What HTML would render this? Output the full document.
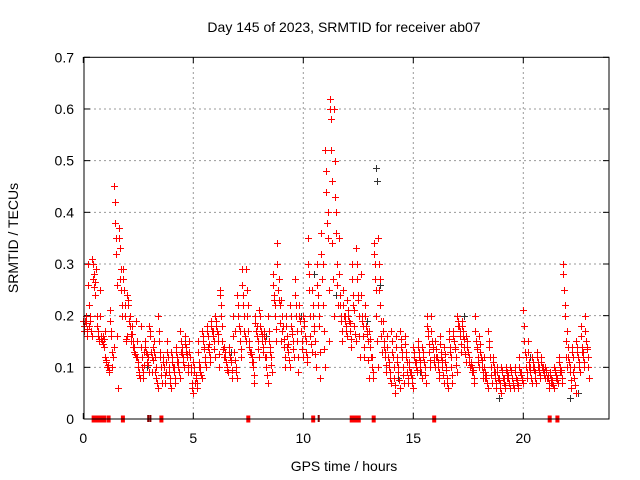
<!DOCTYPE html>
<html><head><meta charset="utf-8"><style>
body{margin:0;background:#fff}
svg{display:block;font-family:"Liberation Sans",sans-serif}
</style></head><body>
<svg id="chart" width="640" height="480">
<rect width="640" height="480" fill="#fff"/>
<text x="344" y="32" text-anchor="middle" font-size="14">Day 145 of 2023, SRMTID for receiver ab07</text>
<text x="18" y="238" text-anchor="middle" font-size="14" transform="rotate(-90 18 238)">SRMTID / TECUs</text>
<text x="344" y="471" text-anchor="middle" font-size="14">GPS time / hours</text>
<g id="grid"></g>
<g id="marks"></g>
<rect x="84" y="57.3" width="525" height="361.7" fill="none" stroke="#000" stroke-width="1"/>
</svg>
<script>
const times=[0,0.2,0.4,0.6,0.8,1.0,1.2,1.4,1.6,1.8,2.0,2.2,2.4,2.6,2.8,3.0,3.2,3.4,3.6,3.8,4.0,4.2,4.4,4.6,4.8,5.0,5.2,5.4,5.6,5.8,6.0,6.2,6.4,6.6,6.8,7.0,7.2,7.4,7.6,7.8,8.0,8.2,8.4,8.6,8.8,9.0,9.2,9.4,9.6,9.8,10.0,10.2,10.4,10.6,10.8,11.0,11.2,11.4,11.6,11.8,12.0,12.2,12.4,12.6,12.8,13.0,13.2,13.4,13.6,13.8,14.0,14.2,14.4,14.6,14.8,15.0,15.2,15.4,15.6,15.8,16.0,16.2,16.4,16.6,16.8,17.0,17.2,17.4,17.6,17.8,18.0,18.2,18.4,18.6,18.8,19.0,19.2,19.4,19.6,19.8,20.0,20.2,20.4,20.6,20.8,21.0,21.2,21.4,21.6,21.8,22.0,22.2,22.4,22.6,22.8];
const v1=[0.19,0.3,0.31,0.2,0.16,0.12,0.21,0.45,0.37,0.29,0.24,0.18,0.19,0.18,0.15,0.18,0.15,0.2,0.12,0.15,0.13,0.14,0.17,0.16,0.15,0.11,0.15,0.17,0.18,0.19,0.2,0.25,0.14,0.14,0.2,0.24,0.29,0.29,0.13,0.2,0.21,0.17,0.2,0.28,0.34,0.23,0.2,0.22,0.27,0.22,0.2,0.35,0.25,0.3,0.36,0.52,0.62,0.6,0.35,0.25,0.23,0.3,0.33,0.28,0.22,0.17,0.34,0.35,0.19,0.16,0.17,0.16,0.17,0.16,0.11,0.14,0.15,0.14,0.2,0.2,0.15,0.16,0.14,0.17,0.17,0.2,0.19,0.16,0.11,0.2,0.16,0.12,0.17,0.12,0.1,0.1,0.1,0.1,0.1,0.12,0.21,0.15,0.12,0.13,0.12,0.1,0.09,0.1,0.12,0.3,0.17,0.14,0.15,0.18,0.2];
const v2=[0.17,0.18,0.27,0.16,0.15,0.11,0.17,0.38,0.33,0.25,0.22,0.15,0.12,0.1,0.13,0.16,0.12,0.15,0.1,0.12,0.11,0.12,0.13,0.13,0.12,0.09,0.11,0.15,0.16,0.17,0.18,0.22,0.12,0.12,0.13,0.2,0.22,0.2,0.12,0.17,0.18,0.15,0.15,0.24,0.25,0.17,0.16,0.18,0.2,0.19,0.18,0.25,0.2,0.22,0.27,0.44,0.58,0.43,0.22,0.2,0.2,0.24,0.27,0.2,0.18,0.14,0.3,0.25,0.15,0.12,0.13,0.12,0.14,0.13,0.09,0.12,0.13,0.12,0.16,0.15,0.12,0.13,0.11,0.14,0.15,0.18,0.17,0.14,0.1,0.15,0.13,0.09,0.14,0.1,0.08,0.09,0.09,0.09,0.08,0.09,0.15,0.11,0.1,0.11,0.1,0.09,0.08,0.09,0.1,0.25,0.12,0.12,0.13,0.14,0.15];
const v3=[0.2,0.2,0.24,0.15,0.14,0.1,0.1,0.26,0.25,0.15,0.18,0.13,0.09,0.08,0.12,0.09,0.08,0.1,0.07,0.08,0.09,0.1,0.12,0.12,0.07,0.08,0.09,0.12,0.13,0.15,0.15,0.15,0.1,0.11,0.1,0.15,0.17,0.15,0.1,0.15,0.15,0.1,0.12,0.2,0.22,0.14,0.13,0.15,0.15,0.15,0.13,0.16,0.15,0.18,0.17,0.35,0.34,0.3,0.19,0.18,0.17,0.18,0.2,0.16,0.15,0.1,0.2,0.19,0.12,0.09,0.08,0.09,0.1,0.09,0.08,0.1,0.1,0.1,0.13,0.12,0.1,0.1,0.08,0.1,0.12,0.16,0.14,0.12,0.09,0.12,0.1,0.08,0.1,0.08,0.07,0.07,0.08,0.07,0.07,0.08,0.1,0.09,0.09,0.09,0.09,0.08,0.07,0.08,0.09,0.15,0.09,0.08,0.11,0.12,0.12];
const v4=[0.16,0.16,0.29,0.25,0.17,0.09,0.14,0.06,0.2,0.16,0.15,0.12,0.08,0.13,0.09,0.14,0.06,0.07,0.11,0.06,0.07,0.08,0.1,0.09,0.05,0.06,0.08,0.1,0.11,0.12,0.1,0.12,0.09,0.08,0.08,0.12,0.15,0.13,0.07,0.12,0.13,0.07,0.09,0.15,0.15,0.1,0.1,0.12,0.09,0.12,0.11,0.13,0.1,0.08,0.1,0.15,0.2,0.22,0.15,0.16,0.14,0.15,0.12,0.12,0.08,0.08,0.1,0.13,0.09,0.07,0.05,0.06,0.07,0.07,0.06,0.09,0.08,0.07,0.1,0.1,0.08,0.07,0.06,0.07,0.09,0.13,0.11,0.1,0.07,0.1,0.08,0.06,0.07,0.06,0.05,0.06,0.06,0.06,0.06,0.07,0.08,0.07,0.07,0.08,0.08,0.06,0.06,0.07,0.07,0.1,0.06,0.05,0.09,0.1,0.08];
const v5=[0.18,0.26,0.3,0.18,0.155,0.115,0.19,0.42,0.35,0.27,0.23,0.165,0.15,0.14,0.14,0.17,0.13,0.17,0.11,0.13,0.12,0.13,0.15,0.145,0.13,0.1,0.13,0.16,0.17,0.18,0.19,0.24,0.13,0.13,0.16,0.22,0.26,0.25,0.125,0.185,0.2,0.16,0.17,0.26,0.3,0.2,0.18,0.2,0.24,0.2,0.19,0.3,0.22,0.26,0.32,0.48,0.6,0.5,0.28,0.22,0.21,0.27,0.3,0.24,0.2,0.155,0.32,0.3,0.17,0.14,0.15,0.14,0.155,0.145,0.1,0.13,0.14,0.13,0.18,0.17,0.135,0.145,0.125,0.155,0.16,0.19,0.18,0.15,0.105,0.17,0.145,0.1,0.15,0.11,0.09,0.095,0.095,0.095,0.09,0.1,0.18,0.13,0.11,0.12,0.11,0.095,0.085,0.095,0.11,0.28,0.14,0.13,0.14,0.16,0.17];
const v6=[0.185,0.19,0.255,0.155,0.145,0.105,0.13,0.32,0.29,0.2,0.2,0.14,0.1,0.09,0.125,0.12,0.1,0.12,0.085,0.1,0.1,0.11,0.125,0.125,0.09,0.085,0.1,0.135,0.145,0.16,0.165,0.18,0.11,0.115,0.115,0.17,0.2,0.17,0.11,0.16,0.165,0.12,0.13,0.22,0.23,0.155,0.145,0.165,0.17,0.17,0.15,0.2,0.17,0.2,0.22,0.4,0.46,0.36,0.2,0.19,0.185,0.21,0.23,0.18,0.165,0.12,0.25,0.22,0.13,0.1,0.1,0.1,0.12,0.11,0.085,0.11,0.115,0.11,0.145,0.135,0.11,0.115,0.095,0.12,0.135,0.17,0.155,0.13,0.095,0.135,0.115,0.085,0.12,0.09,0.075,0.08,0.085,0.08,0.075,0.085,0.12,0.1,0.095,0.1,0.095,0.085,0.075,0.085,0.095,0.2,0.1,0.1,0.12,0.13,0.135];
const v7=[0.175,0.17,0.265,0.2,0.155,0.095,0.12,0.16,0.22,0.155,0.165,0.125,0.085,0.105,0.105,0.115,0.07,0.085,0.09,0.07,0.08,0.09,0.11,0.105,0.06,0.07,0.085,0.11,0.12,0.135,0.125,0.135,0.095,0.095,0.09,0.135,0.16,0.14,0.085,0.135,0.14,0.085,0.105,0.175,0.185,0.12,0.115,0.135,0.12,0.135,0.12,0.145,0.125,0.13,0.135,0.25,0.27,0.26,0.17,0.17,0.155,0.165,0.16,0.14,0.115,0.09,0.15,0.16,0.105,0.08,0.065,0.075,0.085,0.08,0.07,0.095,0.09,0.085,0.115,0.11,0.09,0.085,0.07,0.085,0.105,0.145,0.125,0.11,0.08,0.11,0.09,0.07,0.085,0.07,0.06,0.065,0.07,0.065,0.065,0.075,0.09,0.08,0.08,0.085,0.085,0.07,0.065,0.075,0.08,0.12,0.075,0.065,0.1,0.11,0.1];
const v8=[0.19,0.22,0.28,0.17,0.16,0.1,0.16,0.35,0.27,0.22,0.19,0.14,0.11,0.12,0.11,0.13,0.09,0.13,0.1,0.09,0.1,0.11,0.14,0.14,0.1,0.07,0.1,0.14,0.14,0.17,0.17,0.2,0.11,0.12,0.17,0.18,0.24,0.22,0.11,0.18,0.17,0.12,0.14,0.23,0.27,0.18,0.14,0.17,0.22,0.17,0.16,0.28,0.18,0.24,0.3,0.38,0.52,0.4,0.24,0.2,0.19,0.22,0.24,0.19,0.17,0.12,0.27,0.27,0.14,0.11,0.12,0.11,0.13,0.12,0.09,0.11,0.12,0.11,0.17,0.14,0.12,0.12,0.1,0.13,0.14,0.18,0.16,0.13,0.09,0.14,0.12,0.08,0.12,0.09,0.08,0.08,0.08,0.08,0.08,0.09,0.13,0.1,0.1,0.1,0.1,0.08,0.07,0.08,0.09,0.22,0.11,0.09,0.12,0.13,0.14];
const blackT=[0.3,2.9,4.6,6.7,8.3,9.9,10.5,11.5,12.9,13.3,13.35,13.5,14.3,15.3,17.3,18.9,19.6,20.3,22.1,22.5];
const blackV=[0.2,0.1,0.15,0.13,0.16,0.2,0.28,0.24,0.19,0.485,0.46,0.26,0.08,0.09,0.2,0.04,0.1,0.12,0.04,0.05];
const zeroRedT=[0.47,0.55,0.63,0.71,0.79,0.87,0.95,1.15,1.8,3.55,7.5,10.45,12.2,12.28,12.36,12.44,12.52,13.2,15.95,21.2,21.55];
const zeroBlackT=[2.95,3.05,10.7];
const yTicks=[0,0.1,0.2,0.3,0.4,0.5,0.6,0.7];
const xTicks=[0,5,10,15,20];

const X=t=>83.3+22*t, Y=v=>419-v*516.7;
const NS='http://www.w3.org/2000/svg';
const grid=document.getElementById('grid'), marks=document.getElementById('marks'), svg=document.getElementById('chart');
function mk(tag,attrs,parent){const e=document.createElementNS(NS,tag);for(const k in attrs)e.setAttribute(k,attrs[k]);parent.appendChild(e);return e;}
yTicks.forEach(v=>{
  const y=Y(v);
  if(v>0&&v<0.7){const g=mk('line',{x1:84,x2:609,y1:y,y2:y,stroke:'#999','stroke-dasharray':'2,3'},grid);
  
  }
  mk('line',{x1:84,x2:90,y1:y,y2:y,stroke:'#000'},grid);
  mk('line',{x1:603,x2:609,y1:y,y2:y,stroke:'#000'},grid);
  const t=mk('text',{x:74,y:y+5,'text-anchor':'end','font-size':14},svg);t.textContent=v===0?'0':v.toFixed(1);
  
  
});
xTicks.forEach(h=>{
  const x=X(h);
  if(h>0){const g=mk('line',{x1:x,x2:x,y1:57,y2:419,stroke:'#999','stroke-dasharray':'2,3'},grid);
  
  }
  mk('line',{x1:x,x2:x,y1:413,y2:419,stroke:'#000'},grid);
  mk('line',{x1:x,x2:x,y1:57,y2:63,stroke:'#000'},grid);
  const t=mk('text',{x:x,y:443,'text-anchor':'middle','font-size':14},svg);t.textContent=h;
  
  
});
function plus(t,v){const x=Math.round(X(t))+0.5,y=Math.round(Y(v))+0.5;return `M${x-3.5} ${y}H${x+3.5}M${x} ${y-3.5}V${y+3.5}`;}
let db='';blackT.forEach((t,i)=>{db+=plus(t,blackV[i]);});
const pb=mk('path',{d:db,stroke:'#333',fill:'none','stroke-width':1},marks);


let dr='';[v1,v5,v2,v8,v6,v3,v7,v4].forEach((arr,k)=>{times.forEach((t,i)=>{dr+=plus(t+k*0.025,arr[i]);});});
const pr=mk('path',{d:dr,stroke:'#f00',fill:'none','stroke-width':1},marks);


zeroBlackT.forEach(t=>{const r=mk('rect',{x:X(t)-1,y:415,width:2,height:7,fill:'#800'},marks);

});
zeroRedT.forEach(t=>{const r=mk('rect',{x:X(t)-2,y:415.5,width:4,height:7,fill:'#f00'},marks);

});
</script>
</body></html>
